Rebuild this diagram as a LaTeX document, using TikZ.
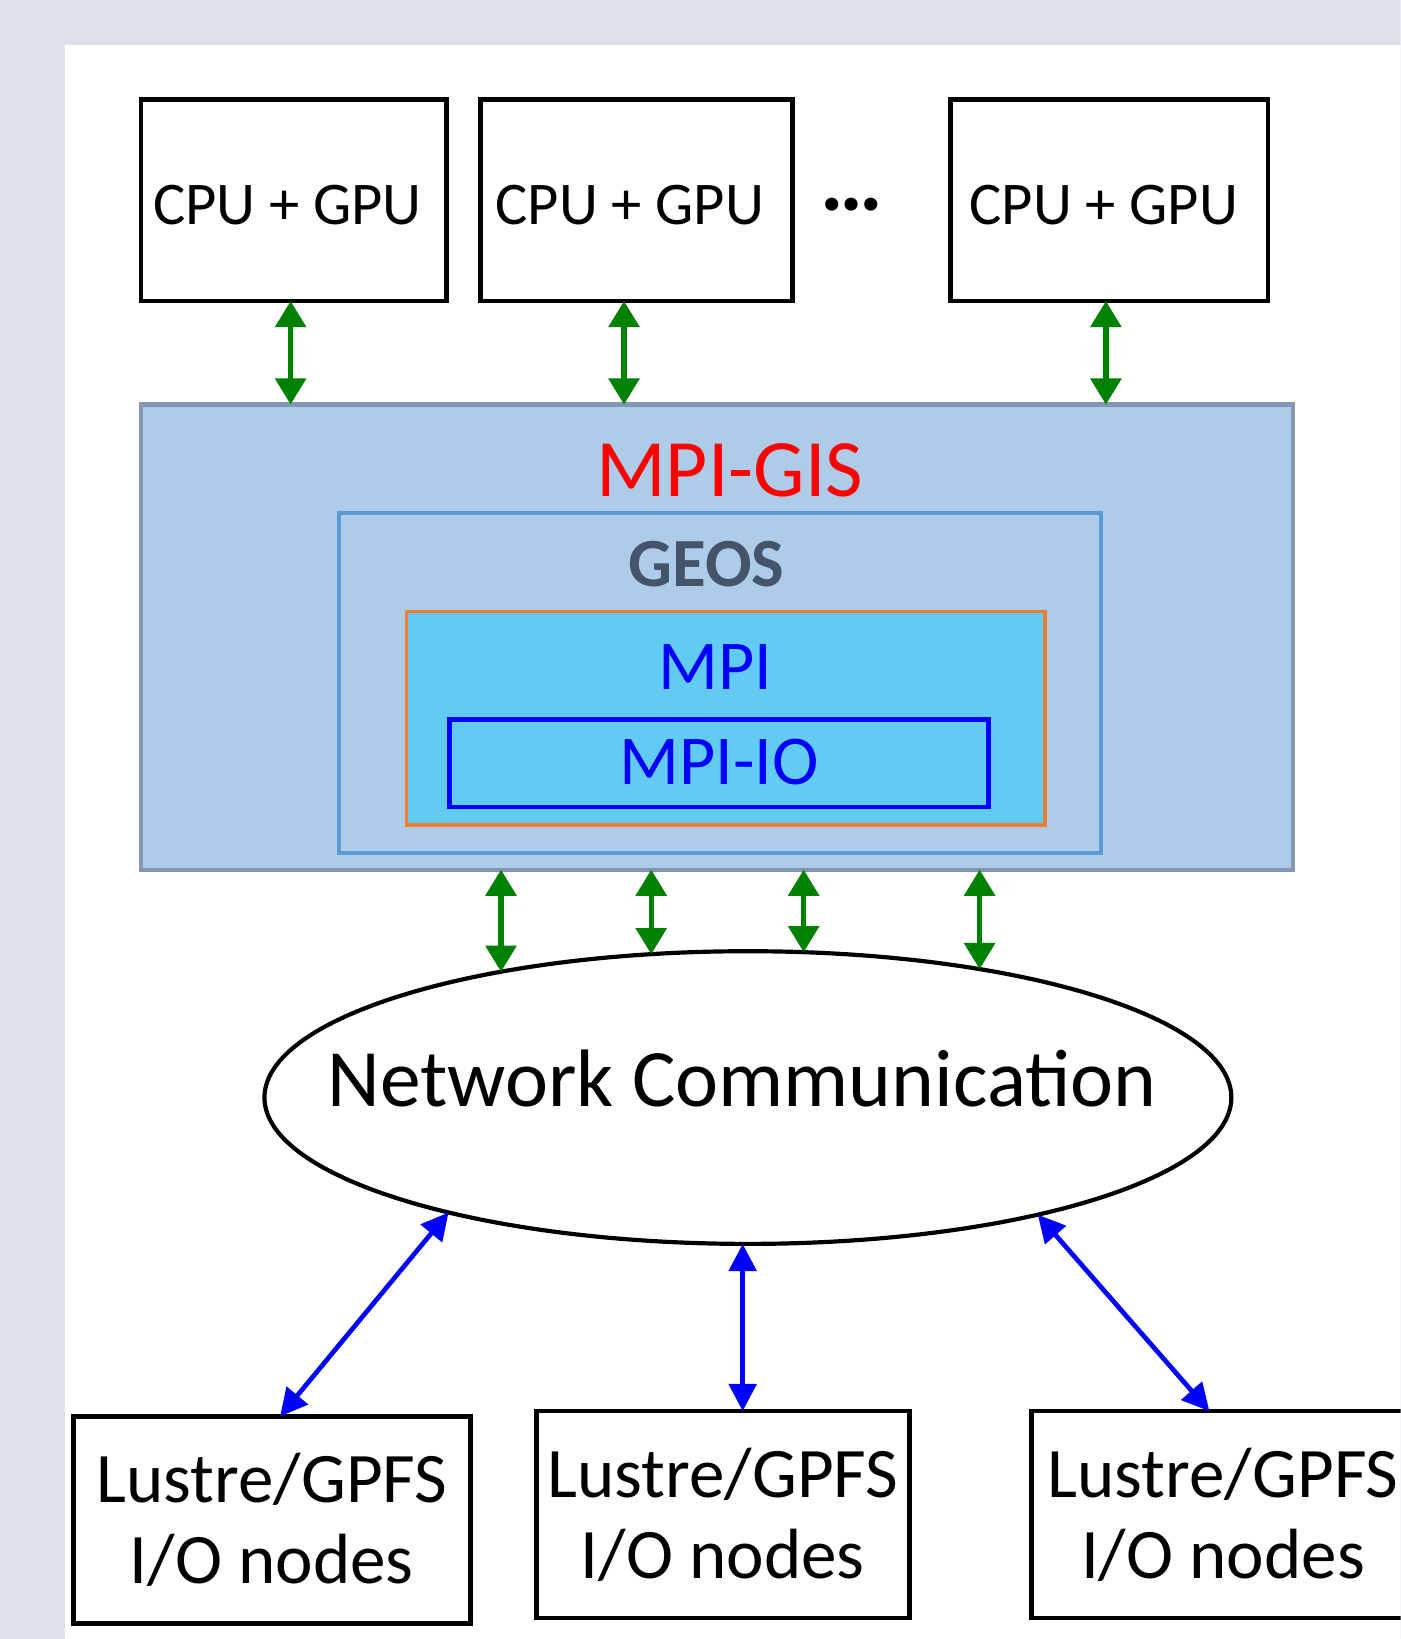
\documentclass[tikz,border=0pt]{standalone}
\usepackage{fontspec}
\setmainfont{Carlito}
\usetikzlibrary{arrows.meta,shapes.geometric}
\definecolor{bgc}{HTML}{DCE0E8}
\definecolor{gisfill}{HTML}{AECBE8}
\definecolor{gisline}{HTML}{8497B0}
\definecolor{geosline}{HTML}{5B9BD5}
\definecolor{geostext}{HTML}{44546A}
\definecolor{mpifill}{HTML}{62CBF3}
\definecolor{mpiline}{HTML}{ED7D31}
\definecolor{arrgreen}{HTML}{008000}
\definecolor{arrblue}{HTML}{0000FF}
\begin{document}
\begin{tikzpicture}[x=1pt,y=-1pt,
  every node/.style={inner sep=0pt,outer sep=0pt},
  hostbox/.style={draw=black,line width=4.5pt,minimum height=193pt},
  cputext/.style={font=\fontsize{58}{64}\selectfont},
  lusbox/.style={draw=black,line width=4.5pt,minimum height=198pt,align=center,font=\fontsize{68}{78}\selectfont},
  bigtext/.style={font=\fontsize{78}{86}\selectfont},
  midtext/.style={font=\fontsize{67}{74}\selectfont},
  garrow/.style={draw=arrgreen,line width=5pt,{Triangle[width=29pt,length=25pt]}-{Triangle[width=29pt,length=25pt]}},
  barrow/.style={draw=arrblue,line width=4.5pt,{Triangle[width=26pt,length=26pt]}-{Triangle[width=26pt,length=26pt]}}
]
\clip (0,0) rectangle (1340,1568);
\fill[bgc] (0,0) rectangle (1340,1568);
\fill[white] (62,43) rectangle (1340,1568);

% compute hosts
\node[hostbox,minimum width=292pt] (cpu1) at (281,191.5) {};
\node[hostbox,minimum width=298pt] (cpu2) at (609,191.5) {};
\node[hostbox,minimum width=304pt] (cpu3) at (1061,191.5) {};
\node[cputext] (cpu1t) at (275,196) {CPU + GPU};
\node[cputext] (cpu2t) at (602.5,196) {CPU + GPU};
\node[cputext] (cpu3t) at (1056,196) {CPU + GPU};
\node[font=\fontsize{84}{90}\selectfont\bfseries] (dots) at (815,196) {…};

% software stack
\node[draw=gisline,fill=gisfill,line width=4pt,minimum width=1102pt,minimum height=445pt] (gis) at (686,609.5) {};
\node[draw=geosline,fill=gisfill,line width=3.5pt,minimum width=729pt,minimum height=325pt] (geos) at (688.5,653.5) {};
\node[draw=mpiline,fill=mpifill,line width=3.5pt,minimum width=611pt,minimum height=204pt] (mpi) at (694.5,687) {};
\node[draw=arrblue,fill=mpifill,line width=4.5pt,minimum width=516pt,minimum height=84pt] (mpiio) at (688,730) {};
\node[bigtext,text=red] (gist) at (698,450) {MPI-GIS};
\node[text=geostext,font=\fontsize{66}{72}\selectfont\bfseries] (geost) at (676,540) {GEOS};
\node[midtext,text=arrblue] (mpit) at (684,638) {MPI};
\node[midtext,text=arrblue] (mpiiot) at (688,729) {MPI-IO};

% network
\node[draw=black,line width=4pt,ellipse,minimum width=925pt,minimum height=280pt] (net) at (715.5,1050) {};
\node[bigtext] (nett) at (710,1032) {Network Communication};

% storage
\node[lusbox,minimum width=380pt] (lus1) at (260,1454) {Lustre/GPFS\\I/O nodes};
\node[lusbox,minimum width=357pt] (lus2) at (691.5,1449) {Lustre/GPFS\\I/O nodes};
\node[lusbox,minimum width=366pt] (lus3) at (1170,1449) {Lustre/GPFS\\I/O nodes};

% connectors
\draw[garrow] ([xshift=-3pt]cpu1.south) -- ([xshift=-3pt]cpu1.south |- gis.north);
\draw[garrow] ([xshift=-12pt]cpu2.south) -- ([xshift=-12pt]cpu2.south |- gis.north);
\draw[garrow] ([xshift=-3pt]cpu3.south) -- ([xshift=-3pt]cpu3.south |- gis.north);

\draw[garrow] (net.153.76 |- gis.south) -- (net.153.76);
\draw[garrow] (net.124.73 |- gis.south) -- (net.124.73);
\draw[garrow] (net.69.14 |- gis.south) -- (net.69.14);
\draw[garrow] (net.29.38 |- gis.south) -- (net.29.38);

\draw[barrow] (net.201.1) -- ([xshift=8pt]lus1.north);
\draw[barrow] ([xshift=-5pt]net.south) -- ([xshift=-5pt]net.south |- lus2.north);
\draw[barrow] (net.338.7) -- ([xshift=-13pt]lus3.north);
\end{tikzpicture}
\end{document}
